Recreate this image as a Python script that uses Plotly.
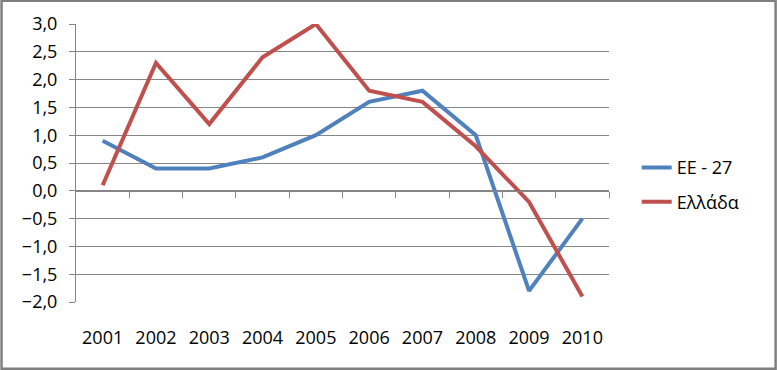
import plotly.graph_objects as go

years = ["2001", "2002", "2003", "2004", "2005", "2006", "2007", "2008", "2009", "2010"]
ee27 = [0.9, 0.4, 0.4, 0.6, 1.0, 1.6, 1.8, 1.0, -1.8, -0.5]
greece = [0.1, 2.3, 1.2, 2.4, 3.0, 1.8, 1.6, 0.8, -0.2, -1.9]
series_names = ["EE - 27", "Ελλάδα"]
y_ticks = [-2.0, -1.5, -1.0, -0.5, 0.0, 0.5, 1.0, 1.5, 2.0, 2.5, 3.0]

W, H = 777, 370
L, R, T, B = 76, 167.7, 24.3, 67.7
pw, ph = W - L - R, H - T - B
FONT = "Open Sans"
GRID = "#868686"

fig = go.Figure()
fig.add_trace(go.Scatter(x=years, y=ee27, name=series_names[0], mode="lines",
                         line=dict(color="#4F81BD", width=4), legendgroup="a"))
fig.add_trace(go.Scatter(x=years, y=greece, name=series_names[1], mode="lines",
                         line=dict(color="#C0504D", width=4), legendgroup="b"))
# invisible trace to host the secondary x axis (category boundary ticks at y=0)
fig.add_trace(go.Scatter(x=[-0.5, len(years) - 0.5], y=[0, 0], xaxis="x2", mode="lines",
                         line=dict(width=0), showlegend=False, hoverinfo="skip"))

fig.update_layout(
    width=W, height=H,
    margin=dict(l=L, r=R, t=T, b=B, pad=0),
    paper_bgcolor="white", plot_bgcolor="white",
    separators=",.",
    font=dict(family=FONT, size=18, color="black"),
    showlegend=True,
    legend=dict(x=(637 - L) / pw, y=(302.3 - 185) / ph, xanchor="left", yanchor="middle",
                traceorder="grouped", tracegroupgap=8,
                font=dict(family=FONT, size=18, color="black"),
                bgcolor="rgba(0,0,0,0)"),
    xaxis=dict(type="category", range=[-0.5, len(years) - 0.5], showline=False,
               showgrid=False, ticks="", ticklabelstandoff=23, zeroline=False),
    xaxis2=dict(overlaying="x", anchor="free", position=2 / 5, range=[-0.5, len(years) - 0.5],
                showline=True, linecolor=GRID, linewidth=1, ticks="outside", ticklen=6,
                tickcolor=GRID, tickwidth=1,
                tickvals=[i + 0.5 for i in range(len(years))], showticklabels=False,
                showgrid=False, zeroline=False, side="bottom"),
    yaxis=dict(range=[-2, 3], tickvals=y_ticks, tickformat=".1f", showgrid=True,
               gridcolor=GRID, gridwidth=1, showline=True, linecolor=GRID, linewidth=1,
               ticks="outside", ticklen=6, tickcolor=GRID, tickwidth=1, zeroline=False,
               ticklabelstandoff=8),
)

# outer chart frame
fig.add_shape(type="rect", xref="paper", yref="paper",
              x0=(1.5 - L) / pw, x1=(W - 1 - L) / pw,
              y0=(H - B - (H - 1)) / ph, y1=(H - B - 1) / ph,
              line=dict(color="#808080", width=2.5), fillcolor="rgba(0,0,0,0)", layer="above")

fig.write_html("out.html", config={"displayModeBar": False},
               post_script="document.body.style.margin='0';document.body.style.overflow='hidden';")
